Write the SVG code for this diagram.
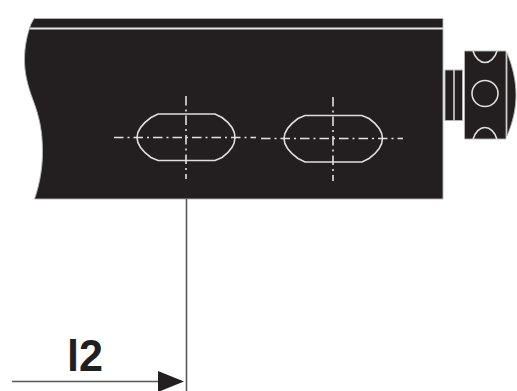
<svg xmlns="http://www.w3.org/2000/svg" width="517" height="391" viewBox="0 0 517 391">
<style>
.body{fill:#231f20;stroke:#b5b5b3;stroke-width:.9}
.lt{fill:none;stroke:#dededc;stroke-width:1.6}
.cl{fill:none;stroke:#e2e2e0;stroke-width:1.6;stroke-dasharray:9.500 4 2 4}
.dim{fill:none;stroke:#58595b;stroke-width:1.600}
</style>
<rect width="517" height="391" fill="#fff"/>
<g id="body">
<path class="body" d="M34 18.500H443V199H34.500C38 189 42.500 172 42.500 152C42.500 130 39 116 33 100C27 84 24.500 72 24.500 60C24.500 46 27 35 31 24Z"/>
<path d="M30 28.500H443" fill="none" stroke="#e6e6e4" stroke-width="2"/>
</g>
<g id="slot-1">
<path class="lt" d="M158 114H215L222 117.500C231 124 235 130 235 137.500C235 145 231 151 222 157.500L215 160.500H158L151 157.500C142 151 137 145 137 137.500C137 130 142 124 151 117.500Z"/>
<path class="cl" d="M114 137.500H256"/>
<path class="cl" d="M186 96V179"/>
</g>
<g id="slot-2">
<path class="lt" d="M305 115.500H362L369 118.500C378 125 382.500 131 382.500 138.500C382.500 146 378 152 369 158.500L362 162H305L298 158.500C289 152 284 146 284 138.500C284 131 289 125 298 118.500Z"/>
<path class="cl" d="M261 138.500H403"/>
<path class="cl" d="M333 97V181"/>
</g>
<g id="knob">
<rect class="body" x="445" y="70" width="17.500" height="50.500"/>
<path d="M454 70V120.500" fill="none" stroke="#dededc" stroke-width="1.500"/>
<path class="body" d="M464.500 51H506V139H464.500Z"/>
<path class="body" d="M507 53C513 67 516 82 516 95C516 108 513 122 507 136Z"/>
<path class="lt" d="M473 51C475 58 480 62.500 485 62.500C490 62.500 495 58 497 51"/>
<path class="lt" d="M473 139.500C475 132 480 127.500 485 127.500C490 127.500 495 132 497 139.500"/>
<circle class="lt" cx="485" cy="93.500" r="13"/>
</g>
<g id="connectors">
<path class="dim" d="M186.500 199V391"/>
<path class="dim" d="M12 381.500H160"/>
<path d="M158 371L184 381.500L158 392Z" fill="#231f20"/>
</g>
<text x="67" y="370.500" font-family="'Liberation Sans',Arial,sans-serif" font-size="44" font-weight="700" fill="#231f20" textLength="36" lengthAdjust="spacingAndGlyphs">l2</text>
</svg>
